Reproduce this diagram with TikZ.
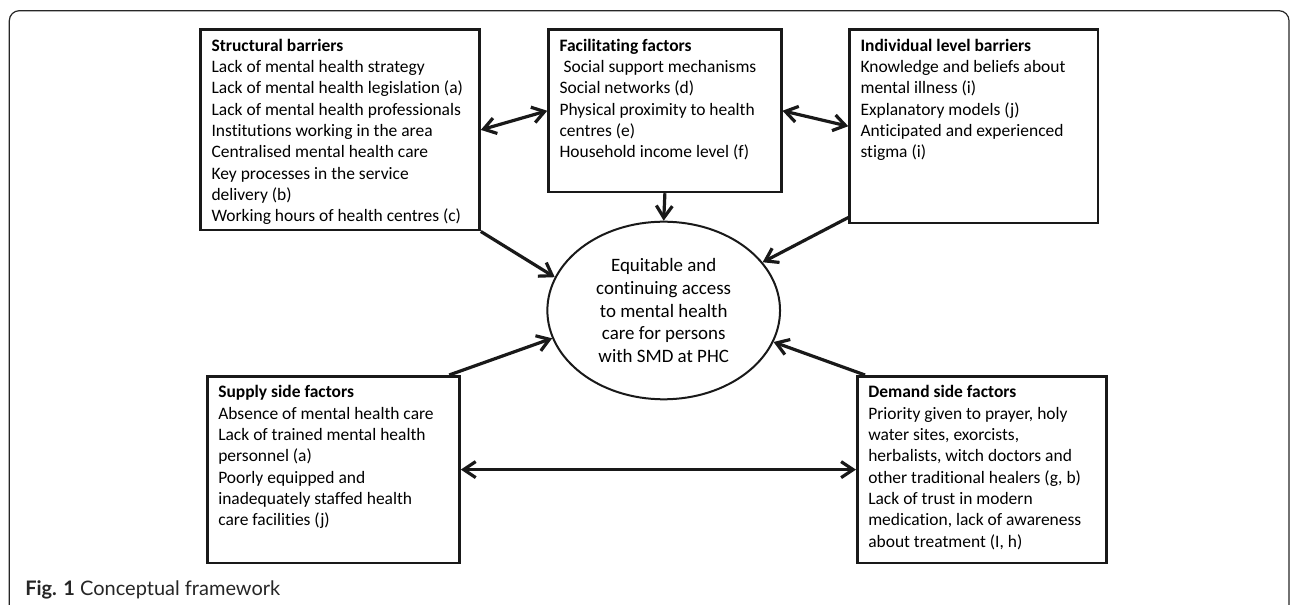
\documentclass[tikz,border=0pt]{standalone}
\usepackage{fontspec}
\setmainfont{Carlito}[Ligatures=NoCommon]
\newfontfamily\captionfont{Lato}
\usetikzlibrary{shapes.geometric,arrows.meta}

\tikzset{
  factor/.style={draw=black!90, line width=1.9pt, anchor=north west, inner xsep=8.25pt, inner ysep=0pt},
  outcome/.style={draw=black!90, line width=1.5pt, ellipse, inner sep=0pt, minimum width=174.5pt, minimum height=133.2pt, align=center, font=\fontsize{14.2pt}{17.2pt}\selectfont},
  link/.style={draw=black!90, line width=2.4pt, -{Straight Barb[length=9pt,width=12pt]}},
  twoway/.style={link, {Straight Barb[length=9pt,width=12pt]}-{Straight Barb[length=9pt,width=12pt]}},
}

% text block of a factor box: width, height, lines
\newcommand{\factorbox}[3]{%
  \parbox[t][#2][t]{#1}{\raggedright\fontsize{13.1pt}{16pt}\selectfont\rule{0pt}{16.3pt}#3}}

\begin{document}
\begin{tikzpicture}[x=0.75pt,y=-0.75pt]
\useasboundingbox (0,0) rectangle (1290,605);
\draw[black!85, line width=0.9pt, rounded corners=7.5pt] (9.3,10.7) rectangle (1289,618);

\node[factor] (struct) at (199.3,28.3) {\factorbox{192.75pt}{150.5pt}{%
  \textbf{Structural barriers}\\
  Lack of mental health strategy\\
  Lack of mental health legislation (a)\\
  Lack of mental health professionals\\
  Institutions working in the area\\
  Centralised mental health care\\
  Key processes in the service\\
  delivery (b)\\
  Working hours of health centres (c)}};
\node[factor] (facil) at (547.3,28.3) {\factorbox{158pt}{121.8pt}{%
  \textbf{Facilitating factors}\\
  \hspace*{0.23em}Social support mechanisms\\
  Social networks (d)\\
  Physical proximity to health\\
  centres (e)\\
  Household income level (f)}};
\node[factor] (indiv) at (848.3,28.3) {\factorbox{169.8pt}{145pt}{%
  \textbf{Individual level barriers}\\
  Knowledge and beliefs about\\
  mental illness (i)\\
  Explanatory models (j)\\
  Anticipated and experienced\\
  stigma (i)}};

\node[outcome] (access) at (663.7,310.5) {Equitable and\\ continuing access\\ to mental health\\ care for persons\\ with SMD at PHC};

\node[factor] (supply) at (206,375) {\factorbox{172.7pt}{140pt}{%
  \textbf{Supply side factors}\\
  Absence of mental health care\\
  Lack of trained mental health\\
  personnel (a)\\
  Poorly equipped and\\
  inadequately staffed health\\
  care facilities (j)}};
\node[factor] (demand) at (856,375) {\factorbox{170.25pt}{140pt}{%
  \textbf{Demand side factors}\\
  Priority given to prayer, holy\\
  water sites, exorcists,\\
  herbalists, witch doctors and\\
  other traditional healers (g, b)\\
  Lack of trust in modern\\
  medication, lack of awareness\\
  about treatment (I, h)}};

\draw[twoway] (struct.east) -- (facil.west);
\draw[twoway] (facil.east) -- (indiv.west);
\draw[link] (facil.south) -- (access.north);
\draw[link] (struct.south east) -- (access.163);
\draw[link] ([yshift=5pt]indiv.south west) -- (access.26.5);
\draw[link] ([xshift=-8.7pt]supply.north east) -- (access.194);
\draw[link] ([xshift=6.75pt]demand.north west) -- (access.344);
\draw[twoway] (supply.east) -- (demand.west);

\node[anchor=base west, inner sep=0pt, font=\captionfont\fontsize{15pt}{18pt}\selectfont, text=black!85] (caption) at (25,596) {\textbf{Fig. 1} Conceptual framework};
\end{tikzpicture}
\end{document}
